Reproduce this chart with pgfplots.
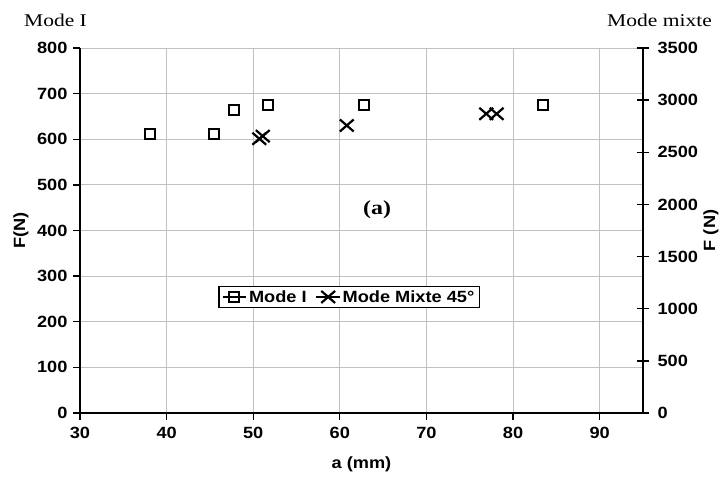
\documentclass[border=0pt]{standalone}
\usepackage{fontspec}
\setmainfont{Liberation Sans}[FakeStretch=1.12]
\newfontfamily\serifmode{Liberation Serif}[FakeStretch=1.2]
\usepackage{pgfplots}
\pgfplotsset{compat=1.18}

\definecolor{gridgray}{RGB}{192,192,192}

\pgfplotsset{
  common/.style={
    width=563bp, height=365bp, scale only axis,
    xmin=30, xmax=95,
    /pgf/number format/assume math mode=true,
    /pgf/number format/1000 sep={},
    tick label style={font=\fontsize{16.3}{18}\selectfont\bfseries},
    axis line style={-, line width=1.6pt, black},
    tick style={black, line width=1.3pt},
  },
  modeI/.style={only marks, mark=square, mark size=5bp, black, line width=2bp},
  mixte/.style={only marks, mark=x, mark size=8.5bp, black, line width=2.2bp, mark options={xscale=1.15}},
}

\begin{document}
\begin{tikzpicture}
% left axis : Mode I
\begin{axis}[common,
    ymin=0, ymax=800,
    xtick={30,40,...,90}, ytick={0,100,...,800},
    axis x line*=bottom, axis y line*=left,
    tick align=outside, major tick length=7bp,
    x tick label style={yshift=-4bp},
    y tick label style={xshift=-2bp},
    grid=major, grid style={gridgray, line width=1pt},
    clip=false,
]
\addplot[modeI] coordinates {
    (38.1,612) (45.5,612) (47.8,664) (51.7,674) (62.8,674) (83.4,674)
};
\node[font=\fontsize{20}{22}\selectfont\serifmode\bfseries] at (axis cs:64.3,445) {(a)};
\end{axis}

% right axis : mode mixte
\begin{axis}[common,
    ymin=0, ymax=3500,
    ytick={0,500,...,3500},
    axis x line=none, axis y line*=right,
    tick align=center, major tick length=12bp,
    y tick label style={xshift=5bp},
    legend columns=2,
    legend style={at={(0.478,0.318)}, anchor=center, draw=black, line width=1.3pt,
        fill=white, font=\fontsize{16.3}{18}\selectfont\bfseries,
        inner xsep=3bp, inner ysep=2bp,
        /tikz/every even column/.append style={column sep=7bp}},
    legend image code/.code={
        \draw[#1] plot coordinates {(0.42cm,0cm)};
        \draw[black, line width=1.3pt] (0cm,0cm) -- (0.84cm,0cm);
    },
]
\addlegendimage{modeI}
\addlegendentry{Mode I}
\addplot[mixte] coordinates {
    (50.7,2630) (51.1,2655) (60.8,2757) (76.9,2869) (78.1,2869)
};
\addlegendentry{Mode Mixte 45°}
\end{axis}

% labels
\node[font=\fontsize{16.3}{18}\selectfont\bfseries, rotate=90] at (-59bp,182.5bp) {F(N)};
\node[font=\fontsize{16.3}{18}\selectfont\bfseries, rotate=90] at (631bp,182.5bp) {F (N)};
\node[font=\fontsize{16.3}{18}\selectfont\bfseries] at (281.5bp,-51bp) {a (mm)};
\node[font=\fontsize{18}{20}\selectfont\serifmode, anchor=base] at (-24.5bp,386bp) {Mode I};
\node[font=\fontsize{18}{20}\selectfont\serifmode, anchor=base] at (579.5bp,386bp) {Mode mixte};

\pgfresetboundingbox
\path[use as bounding box] (-80bp,-64bp) rectangle (645bp,413bp);
\end{tikzpicture}
\end{document}
